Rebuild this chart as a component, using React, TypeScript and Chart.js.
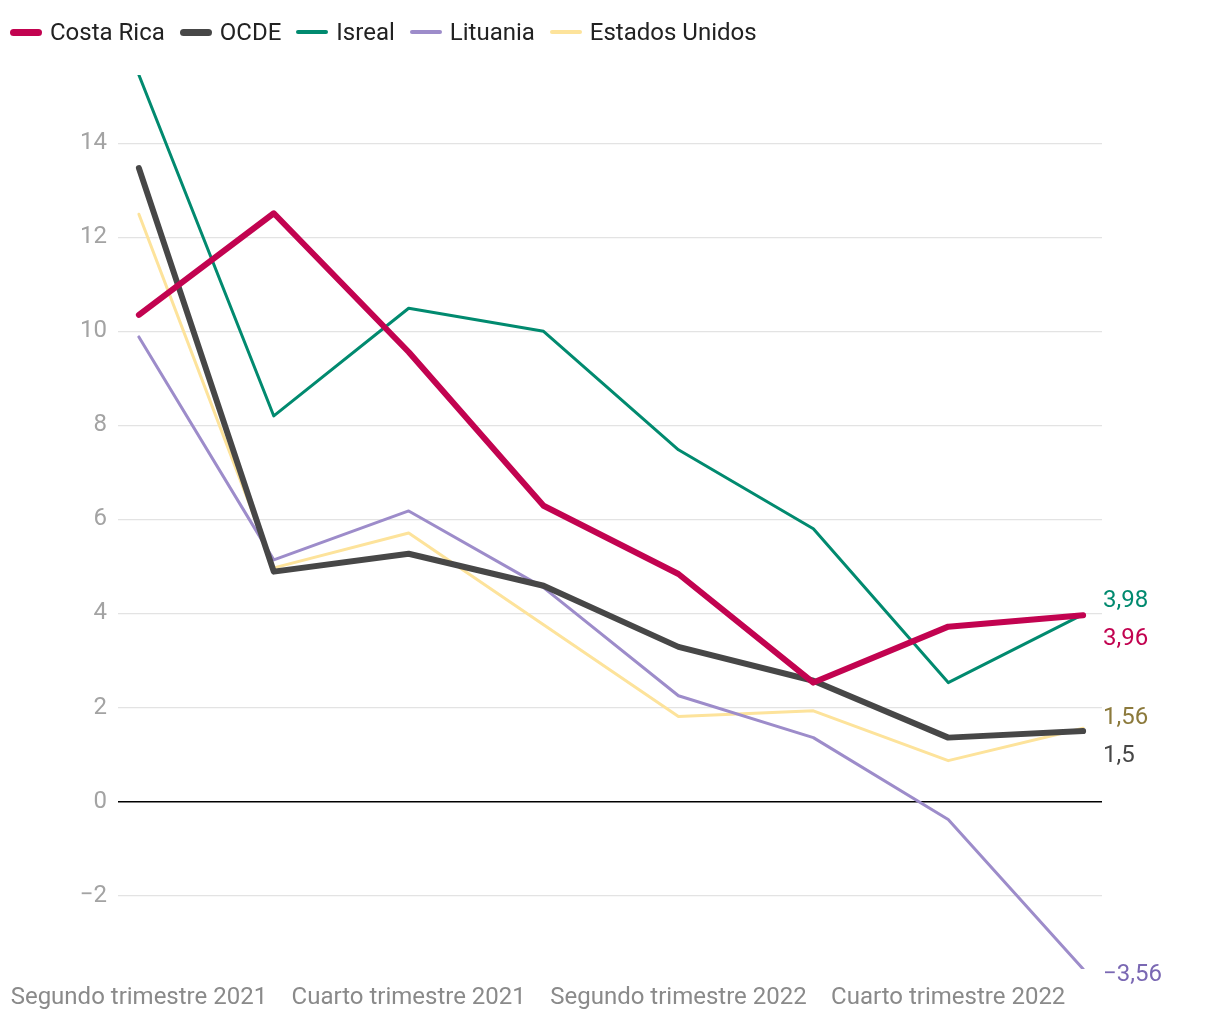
import React, { useEffect, useRef } from "react";
import { Chart, registerables } from "chart.js";

Chart.register(...registerables);

const quarters = [
  "Segundo trimestre 2021",
  "Tercer trimestre 2021",
  "Cuarto trimestre 2021",
  "Primer trimestre 2022",
  "Segundo trimestre 2022",
  "Tercer trimestre 2022",
  "Cuarto trimestre 2022",
  "Primer trimestre 2023",
];
const shownTicks = [0, 2, 4, 6];
const yTicks = [-2, 0, 2, 4, 6, 8, 10, 12, 14];

const costaRica = [10.35, 12.51, 9.56, 6.29, 4.84, 2.53, 3.72, 3.96];
const ocde = [13.47, 4.89, 5.27, 4.59, 3.29, 2.57, 1.36, 1.5];
const isreal = [15.45, 8.2, 10.49, 10.0, 7.48, 5.8, 2.53, 3.98];
const lituania = [9.88, 5.14, 6.18, 4.55, 2.25, 1.36, -0.38, -3.56];
const estadosUnidos = [12.49, 4.97, 5.71, 3.76, 1.81, 1.93, 0.87, 1.56];

const seriesNames = ["Costa Rica", "OCDE", "Isreal", "Lituania", "Estados Unidos"];
const seriesData = [costaRica, ocde, isreal, lituania, estadosUnidos];
const seriesColors = ["#c20350", "#474747", "#018a6f", "#9d8cca", "#fde39b"];
const seriesWidths = [6, 6, 3, 3, 3];
const endLabels = ["3,96", "1,5", "3,98", "\u22123,56", "1,56"];
const endLabelColors = ["#c20350", "#474747", "#018a6f", "#7a68b3", "#8c7a3c"];
const endLabelOffsets = [24, 25, -13, 6, -10];

const FONT = "Roboto, 'Noto Sans', sans-serif";

const endLabelPlugin = {
  id: "endLabels",
  afterDatasetsDraw(chart: any) {
    const ctx = chart.ctx;
    const xs = chart.scales.x;
    const ys = chart.scales.y;
    ctx.save();
    ctx.font = `24px ${FONT}`;
    ctx.textAlign = "left";
    ctx.textBaseline = "middle";
    seriesData.forEach((d, i) => {
      const last = d.length - 1;
      const x = xs.getPixelForValue(last) + 20;
      const y = ys.getPixelForValue(d[last]) + endLabelOffsets[i];
      ctx.fillStyle = endLabelColors[i];
      ctx.fillText(endLabels[i], x, y);
    });
    ctx.restore();
  },
};

export default function App() {
  const ref = useRef<HTMLCanvasElement>(null);
  useEffect(() => {
    document.body.style.margin = "0";
    const chart = new Chart(ref.current!, {
      type: "line",
      data: {
        datasets: seriesNames.map((name, i) => ({
          label: name,
          data: seriesData[i].map((v, j) => ({ x: j, y: v })),
          borderColor: seriesColors[i],
          backgroundColor: seriesColors[i],
          borderWidth: seriesWidths[i],
          pointRadius: 0,
          tension: 0,
          borderCapStyle: "round",
          borderJoinStyle: "round",
        })),
      },
      options: {
        animation: false,
        responsive: false,
        layout: { padding: { top: 75, right: 118, left: 0, bottom: 0 } },
        plugins: { legend: { display: false }, tooltip: { enabled: false } },
        scales: {
          x: {
            type: "linear",
            min: -0.155,
            max: 7.14,
            afterBuildTicks: (s: any) => {
              s.ticks = shownTicks.map((v) => ({ value: v }));
            },
            afterFit: (s: any) => {
              s.height = 51;
            },
            ticks: {
              callback: (v: any) => quarters[v as number] ?? "",
              color: "#8a8a8a",
              font: { family: FONT, size: 24 },
              padding: 7,
              maxRotation: 0,
              autoSkip: false,
            },
            grid: { display: false },
            border: { display: false },
          },
          y: {
            min: -3.56,
            max: 15.45,
            afterBuildTicks: (s: any) => {
              s.ticks = yTicks.map((v) => ({ value: v }));
            },
            afterFit: (s: any) => {
              s.width = 118;
            },
            ticks: {
              callback: (v: any) => (v < 0 ? "\u2212" + Math.abs(v) : String(v)),
              color: "#a3a3a3",
              font: { family: FONT, size: 24 },
              padding: 11,
            },
            grid: {
              color: (c: any) => (c.tick && c.tick.value === 0 ? "#000000" : "#e3e3e3"),
              lineWidth: (c: any) => (c.tick && c.tick.value === 0 ? 1.5 : 1.2),
              drawTicks: false,
            },
            border: { display: false },
          },
        },
      } as any,
      plugins: [endLabelPlugin],
    });
    return () => chart.destroy();
  }, []);

  return (
    <div style={{ position: "relative", width: 1220, height: 1020 }}>
      <canvas ref={ref} width={1220} height={1020} style={{ position: "absolute", left: 0, top: 0 }} />
      <div
        style={{
          position: "absolute",
          left: 10,
          top: 17,
          display: "flex",
          alignItems: "center",
          fontFamily: FONT,
          fontSize: 24,
          color: "#222",
          lineHeight: "30px",
        }}
      >
        {seriesNames.map((name, i) => (
          <div key={name} style={{ display: "flex", alignItems: "center", marginRight: 15 }}>
            <span
              style={{
                display: "inline-block",
                width: 32,
                height: seriesWidths[i] === 6 ? 7 : 4,
                borderRadius: 4,
                background: seriesColors[i],
                marginRight: 8,
              }}
            />
            <span>{name}</span>
          </div>
        ))}
      </div>
    </div>
  );
}
